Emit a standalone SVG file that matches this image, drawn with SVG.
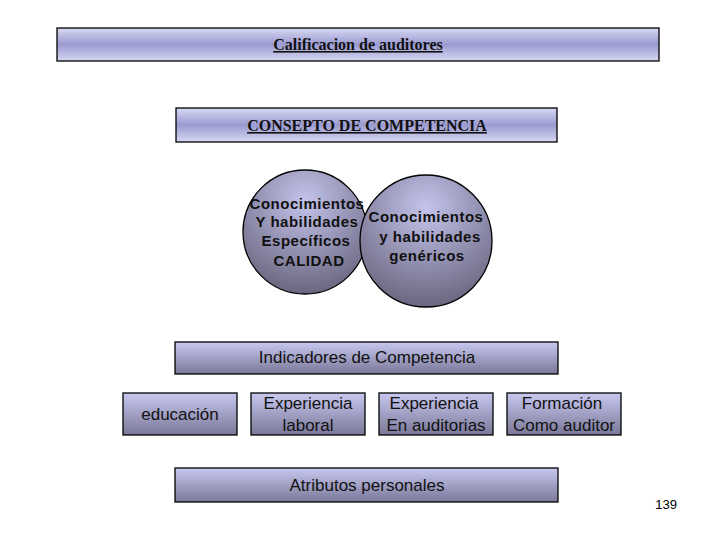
<svg xmlns="http://www.w3.org/2000/svg" width="720" height="540" viewBox="0 0 720 540">
<defs>
<linearGradient id="band" x1="0" y1="0" x2="0" y2="1">
<stop offset="0" stop-color="#d8d8f4"/><stop offset="0.5" stop-color="#9a9ad0"/><stop offset="1" stop-color="#d8d8f4"/>
</linearGradient>
<linearGradient id="box" x1="0" y1="0" x2="0" y2="1">
<stop offset="0" stop-color="#c8c8f0"/><stop offset="1" stop-color="#7a7898"/>
</linearGradient>
<radialGradient id="circ" cx="0.5" cy="0.25" r="0.8">
<stop offset="0" stop-color="#c4c4ec"/><stop offset="1" stop-color="#646078"/>
</radialGradient>
<style>
.b{stroke:#000;stroke-width:1.3}
.t{font-family:"Liberation Serif",serif;font-weight:bold;text-decoration:underline;text-anchor:middle;fill:#111}
.s{font-family:"Liberation Sans",Arial,sans-serif;font-size:17px;text-anchor:middle;fill:#111}
.c{font-family:"Liberation Sans",Arial,sans-serif;font-size:15px;font-weight:bold;letter-spacing:0.5px;text-anchor:middle;fill:#111}
</style>
</defs>
<rect width="720" height="540" fill="#fff"/>
<g id="title"><rect class="b" x="57" y="28" width="602" height="33" fill="url(#band)"/><text class="t" x="358" y="50" font-size="16">Calificacion de auditores</text></g>
<g id="concepto"><rect class="b" x="176" y="108" width="381" height="34" fill="url(#band)"/><text class="t" x="367" y="131" font-size="16">CONSEPTO DE COMPETENCIA</text></g>
<g id="especificos"><circle class="b" stroke-width="1" cx="305" cy="232" r="62" fill="url(#circ)"/>
<text class="c" x="307" y="209">Conocimientos</text><text class="c" x="307" y="227">Y habilidades</text><text class="c" x="306" y="246">Específicos</text><text class="c" x="309" y="266">CALIDAD</text></g>
<g id="genericos"><circle class="b" stroke-width="1" cx="426" cy="241" r="66" fill="url(#circ)"/>
<text class="c" x="426" y="222">Conocimientos</text><text class="c" x="430" y="242">y habilidades</text><text class="c" x="427" y="261">genéricos</text></g>
<g id="indicadores"><rect class="b" x="175" y="342" width="383" height="32" fill="url(#box)"/><text class="s" x="367" y="363">Indicadores de Competencia</text></g>
<g id="educacion"><rect class="b" x="123" y="393" width="114" height="42" fill="url(#box)"/><text class="s" x="180" y="420">educación</text></g>
<g id="laboral"><rect class="b" x="251" y="393" width="114" height="42" fill="url(#box)"/><text class="s" x="308" y="409">Experiencia</text><text class="s" x="308" y="431">laboral</text></g>
<g id="auditorias"><rect class="b" x="379" y="393" width="114" height="42" fill="url(#box)"/><text class="s" x="434" y="409">Experiencia</text><text class="s" x="436" y="431">En auditorias</text></g>
<g id="formacion"><rect class="b" x="507" y="393" width="114" height="42" fill="url(#box)"/><text class="s" x="562" y="409">Formación</text><text class="s" x="564" y="431">Como auditor</text></g>
<g id="atributos"><rect class="b" x="175" y="468" width="383" height="34" fill="url(#box)"/><text class="s" x="367" y="491">Atributos personales</text></g>
<g id="connectors"/>
<text x="677" y="509" font-family="Liberation Sans,Arial,sans-serif" font-size="13" text-anchor="end">139</text>
</svg>
